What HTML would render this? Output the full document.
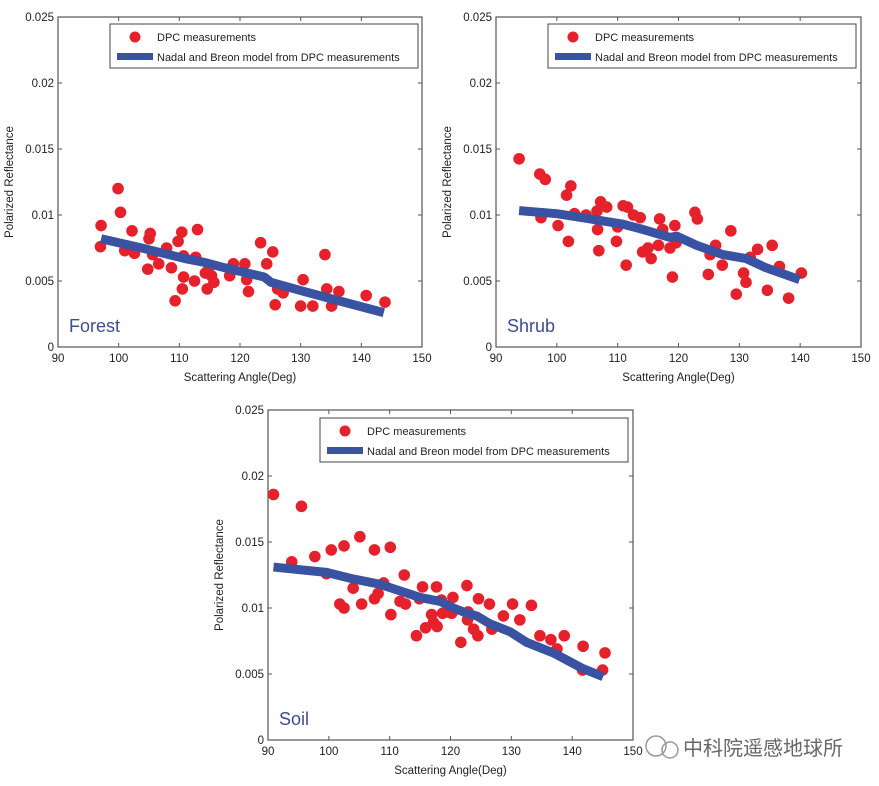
<!DOCTYPE html>
<html><head><meta charset="utf-8"><style>
body{margin:0;background:#fff;width:879px;height:786px;overflow:hidden}
svg{display:block;font-family:"Liberation Sans",Arial,sans-serif}
</style></head><body>
<svg id="c" width="879" height="786" viewBox="0 0 879 786">
<text x="683" y="755" font-size="20" fill="#666" font-family="'Liberation Sans','Noto Sans CJK SC',sans-serif">中科院遥感地球所</text>
<g fill="none" stroke="#999" stroke-width="1.5"><circle cx="656" cy="746" r="10"/><circle cx="670" cy="750" r="8"/></g>
</svg>
<script>
const xTicks=[90,100,110,120,130,140,150];
const yTicks=[0,0.005,0.01,0.015,0.02,0.025];
const yTickLabels=["0","0.005","0.01","0.015","0.02","0.025"];
const forestX=[97.1,97.0,99.9,100.3,101.0,102.2,102.6,104.8,105.0,105.2,105.6,106.6,107.9,108.7,109.3,109.8,110.4,110.7,110.7,110.5,112.5,113.0,112.7,114.3,114.6,115.3,115.7,114.9,118.3,118.9,120.8,121.1,121.4,123.4,124.4,125.4,125.8,126.2,127.1,130.0,130.4,132.0,134.0,134.3,135.1,136.3,140.8,143.9];
const forestY=[0.0092,0.0076,0.0120,0.0102,0.0073,0.0088,0.0071,0.0059,0.0082,0.0086,0.0070,0.0063,0.0075,0.0060,0.0035,0.0080,0.0087,0.0069,0.0053,0.0044,0.0050,0.0089,0.0068,0.0056,0.0044,0.0054,0.0049,0.0061,0.0054,0.0063,0.0063,0.0051,0.0042,0.0079,0.0063,0.0072,0.0032,0.0044,0.0041,0.0031,0.0051,0.0031,0.0070,0.0044,0.0031,0.0042,0.0039,0.0034];
const forestModelX=[97.1,103.8,110.9,114.2,117.5,124.0,125.1,130.6,135.5,143.7];
const forestModelY=[0.0082,0.0075,0.0067,0.0064,0.0060,0.0053,0.0049,0.0042,0.0036,0.0026];
const shrubX=[93.8,97.2,98.1,97.4,100.2,101.6,102.3,101.9,102.9,104.8,106.6,106.7,106.9,107.2,108.2,109.8,110.0,110.9,111.4,111.6,112.6,113.7,114.1,115.0,115.5,116.7,116.9,117.4,118.6,119.0,119.4,119.6,122.7,123.1,124.9,125.2,126.1,127.2,128.6,129.5,130.7,131.1,131.8,133.0,134.6,135.4,136.6,138.1,140.2];
const shrubY=[0.01426,0.0131,0.0127,0.0098,0.0092,0.0115,0.0122,0.0080,0.0101,0.0100,0.0103,0.0089,0.0073,0.0110,0.0106,0.0080,0.0091,0.0107,0.0062,0.0106,0.0100,0.0098,0.0072,0.0075,0.0067,0.0077,0.0097,0.0089,0.0075,0.0053,0.0092,0.0079,0.0102,0.0097,0.0055,0.0070,0.0077,0.0062,0.0088,0.0040,0.0056,0.0049,0.0068,0.0074,0.0043,0.0077,0.0061,0.0037,0.0056];
const shrubModelX=[93.8,100,105.5,110.9,114.2,118.6,119.7,123,127.3,131.1,134.4,139.9];
const shrubModelY=[0.01033,0.0101,0.0097,0.0093,0.0089,0.0083,0.0084,0.0077,0.0070,0.0067,0.0060,0.0051];
const soilX=[90.9,95.5,93.9,97.7,99.6,100.4,102.5,101.8,102.5,104.0,105.1,105.4,107.5,107.5,108.1,109.0,110.1,110.2,111.7,112.4,112.6,114.4,114.9,115.4,115.9,116.9,117.2,117.7,117.8,118.5,118.7,119.4,120.4,120.2,121.7,122.7,122.9,122.8,123.8,124.5,124.6,126.4,126.8,128.7,130.2,131.4,133.3,134.7,136.5,137.5,138.7,141.8,141.7,145.4,145.0];
const soilY=[0.0186,0.0177,0.0135,0.0139,0.0126,0.0144,0.0147,0.0103,0.0100,0.0115,0.0154,0.0103,0.0144,0.0107,0.0111,0.0119,0.0146,0.0095,0.0105,0.0125,0.0103,0.0079,0.0107,0.0116,0.0085,0.0095,0.0089,0.0116,0.0086,0.0106,0.0096,0.0097,0.0108,0.0096,0.0074,0.0117,0.0097,0.0091,0.0084,0.0079,0.0107,0.0103,0.0084,0.0094,0.0103,0.0091,0.0102,0.0079,0.0076,0.0069,0.0079,0.0071,0.0053,0.0066,0.0053];
const soilModelX=[90.9,99.6,104.0,108.4,111.7,115.0,118.3,120.5,122.7,124.3,126.5,129.8,132.5,136.9,141.8,145.1];
const soilModelY=[0.0131,0.0127,0.0122,0.0118,0.0113,0.0108,0.0105,0.0100,0.0096,0.0094,0.0088,0.0082,0.0074,0.0066,0.0054,0.0048];

const svg=document.getElementById('c');
const NS='http://www.w3.org/2000/svg';
function mk(t,a,p){const e=document.createElementNS(NS,t);for(const k in a)e.setAttribute(k,a[k]);(p||svg).appendChild(e);return e;}

function panel(name,L,T,R,B,xs,ys,mx,my,lbl,legX,legY){
  const g=mk('g',{});
  
  
  const sx=v=>L+(v-90)/60*(R-L);
  const sy=v=>B-v/0.025*(B-T);
  const box=mk('rect',{x:L,y:T,width:R-L,height:B-T,fill:'none',stroke:'#555','stroke-width':1.2},g);
  
  
  xTicks.forEach(v=>{
    const x=sx(v);
    mk('line',{x1:x,x2:x,y1:B,y2:B-4,stroke:'#555'},g);
    mk('line',{x1:x,x2:x,y1:T,y2:T+4,stroke:'#555'},g);
    const t=mk('text',{x:x,y:B+15,'font-size':11.5,'text-anchor':'middle',fill:'#222'},g);
    t.textContent=v;
    
    
  });
  yTicks.forEach((v,i)=>{
    const y=sy(v);
    mk('line',{x1:L,x2:L+4,y1:y,y2:y,stroke:'#555'},g);
    mk('line',{x1:R,x2:R-4,y1:y,y2:y,stroke:'#555'},g);
    const t=mk('text',{x:L-4,y:y+4,'font-size':11.5,'text-anchor':'end',fill:'#222'},g);
    t.textContent=yTickLabels[i];
    
    
  });
  const xt=mk('text',{x:(L+R)/2,y:B+34,'font-size':11.5,'text-anchor':'middle',fill:'#222'},g);
  xt.textContent='Scattering Angle(Deg)';
  
  
  const yt=mk('text',{x:0,y:0,'font-size':11.5,'text-anchor':'middle',fill:'#222',transform:`translate(${L-45},${(T+B)/2}) rotate(-90)`},g);
  yt.textContent='Polarized Reflectance';
  
  
  xs.forEach((v,i)=>{
    const c=mk('circle',{cx:sx(v),cy:sy(ys[i]),r:5.8,fill:'#e5212b'},g);
    
    
  });
  const pl=mk('polyline',{points:mx.map((v,i)=>sx(v)+','+sy(my[i])).join(' '),fill:'none',stroke:'#3a52a2','stroke-width':9,'stroke-linejoin':'round'},g);
  
  
  const lt=mk('text',{x:L+11,y:B-15,'font-size':18,fill:'#3e4d8c'},g);
  lt.textContent=lbl;
  
  
  const lg=mk('g',{},g);
  
  
  mk('rect',{x:legX,y:legY,width:308,height:44,fill:'#fff',stroke:'#444'},lg);
  mk('circle',{cx:legX+25,cy:legY+13,r:5.5,fill:'#e5212b'},lg);
  mk('rect',{x:legX+7,y:legY+29,width:36,height:7,fill:'#3a52a2'},lg);
  const a=mk('text',{x:legX+47,y:legY+17,'font-size':11,fill:'#222'},lg);
  a.textContent='DPC measurements';
  
  
  const b=mk('text',{x:legX+47,y:legY+37,'font-size':11,fill:'#222'},lg);
  b.textContent='Nadal and Breon model from DPC measurements';
  
  
}
panel('forest',58,17,422,347,forestX,forestY,forestModelX,forestModelY,'Forest',110,24);
panel('shrub',496,17,861,347,shrubX,shrubY,shrubModelX,shrubModelY,'Shrub',548,24);
panel('soil',268,410,633,740,soilX,soilY,soilModelX,soilModelY,'Soil',320,418);
</script>
</body></html>
